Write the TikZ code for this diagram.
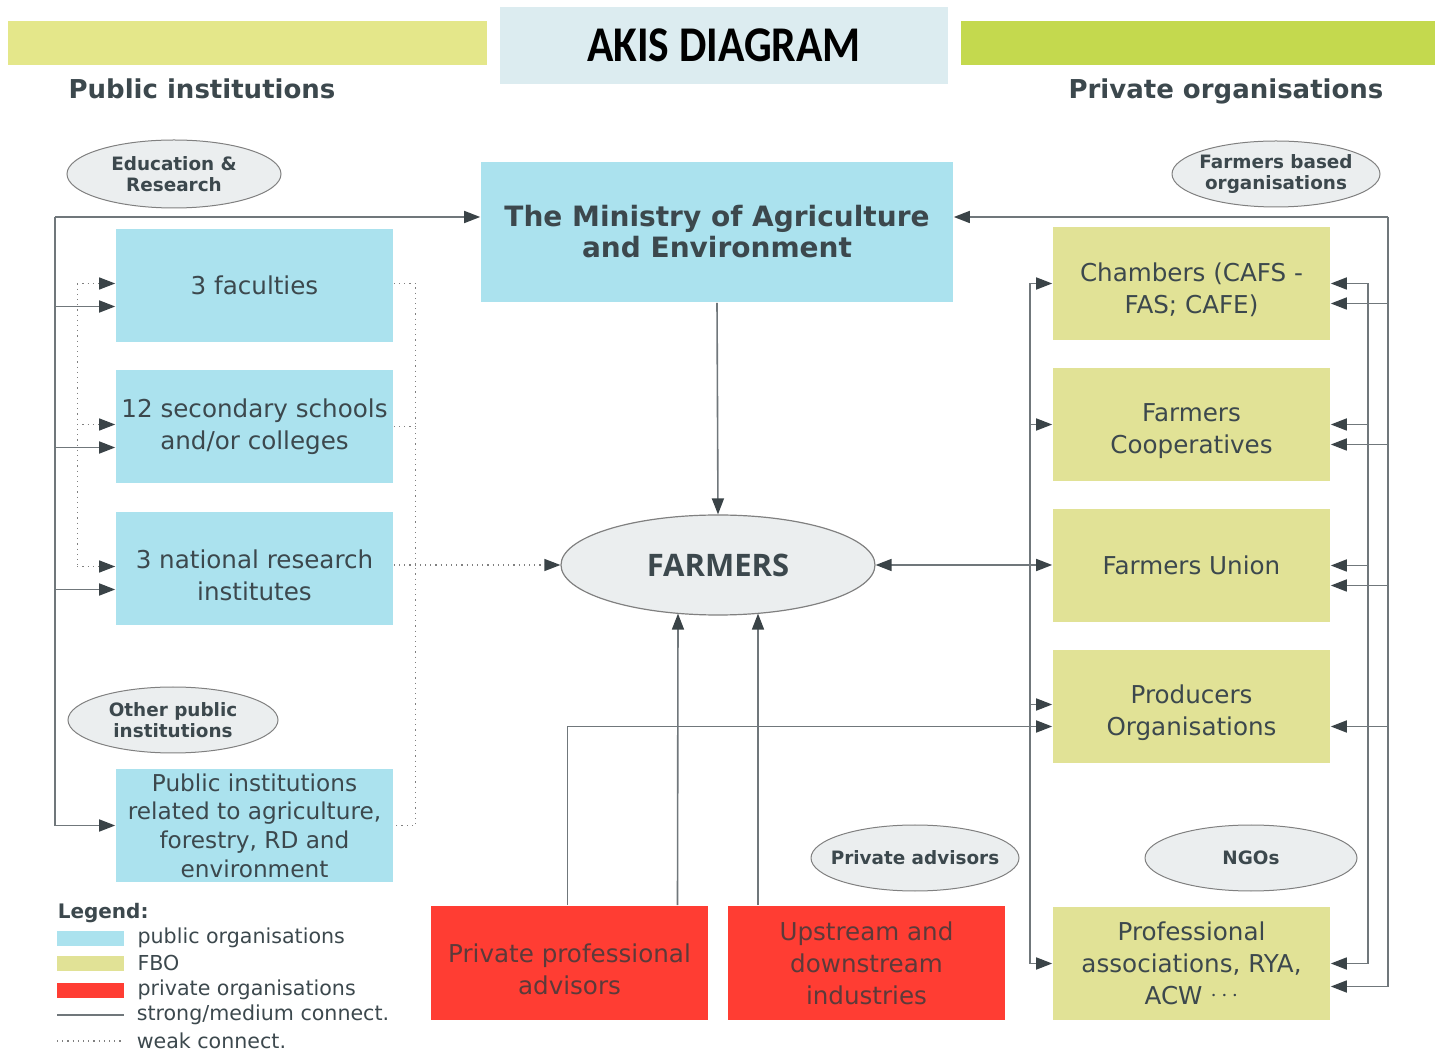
\documentclass[tikz,border=0pt]{standalone}
\usepackage{fontspec}
\usepackage{graphicx}
\setmainfont{DejaVu Sans}
\newfontfamily\farmfont{Open Sans}
\newfontfamily\titlefont{Carlito}
\usetikzlibrary{shapes.geometric,arrows.meta,calc,positioning}

\definecolor{pubblue}{RGB}{171,226,238}
\definecolor{fboyel}{RGB}{225,226,150}
\definecolor{privred}{RGB}{255,61,51}
\definecolor{ellgray}{RGB}{235,238,239}
\definecolor{txtgray}{RGB}{60,72,77}
\definecolor{redtxt}{RGB}{92,58,58}
\definecolor{linegray}{RGB}{112,119,123}
\definecolor{arrowdark}{RGB}{58,67,71}
\definecolor{barleft}{RGB}{228,231,138}
\definecolor{barright}{RGB}{196,217,78}
\definecolor{titlebg}{RGB}{220,236,240}

\newcommand{\bodyfont}{\fontsize{12.3}{16}\selectfont}
\newcommand{\ellfont}{\bfseries\fontsize{9.2}{10.5}\selectfont}

\begin{document}
\begin{tikzpicture}[x=0.5pt,y=-0.5pt,line width=0.8pt,color=linegray,text=txtgray,
    >={Triangle[length=8pt,width=6pt,color=arrowdark]}]
    \tikzstyle{box} = [rectangle, minimum width=138.5pt, minimum height=56.5pt, inner sep=0pt, align=center, font=\bodyfont]
    \tikzstyle{pub} = [box, fill=pubblue]
    \tikzstyle{fbo} = [box, fill=fboyel]
    \tikzstyle{priv} = [box, fill=privred, minimum height=57pt, text=redtxt]
    \tikzstyle{low} = [text height=32pt]
    \tikzstyle{group} = [ellipse, draw=gray, line width=0.5pt, fill=ellgray, inner xsep=-8pt, inner ysep=0pt, minimum width=105pt, minimum height=33pt, align=center, font=\ellfont]
    \tikzstyle{head} = [anchor=base, font=\bfseries\fontsize{13}{14}\selectfont]
    \tikzstyle{weak} = [dotted, line width=0.6pt, color=gray]
    \tikzstyle{swatch} = [rectangle, minimum width=33.5pt, minimum height=7.5pt, inner sep=0pt]
    \tikzstyle{lgtext} = [anchor=west, inner sep=0pt, font=\fontsize{10.3}{12}\selectfont]

    \useasboundingbox (0,0) rectangle (1435,1052);

    % header
    \node[rectangle, fill=barleft, minimum width=239.5pt, minimum height=22pt] (barl) at (247.5,43) {};
    \node[rectangle, fill=barright, minimum width=237pt, minimum height=22pt] (barr) at (1198,43) {};
    \node[rectangle, fill=titlebg, minimum width=224pt, minimum height=38.5pt, text=black] (title) at (724,45.5)
        {\titlefont\bfseries\fontsize{25}{25}\selectfont\scalebox{0.87}[1]{AKIS DIAGRAM}};
    \node[head] (pubhead) at (202,99) {Public institutions};
    \node[head] (privhead) at (1226,99) {Private organisations};

    % centre
    \node[box, fill=pubblue, minimum width=236pt, minimum height=70pt,
          font=\bfseries\fontsize{14}{15.5}\selectfont] (ministry) at (717,232)
        {The Ministry of Agriculture\\and Environment};
    \node[group, minimum width=157pt, minimum height=50pt, font=\farmfont\bfseries\fontsize{15.5}{16}\selectfont,
          line width=0.6pt] (farmers) at (718,565) {FARMERS};

    % public side
    \node[group, minimum width=107pt, minimum height=34pt] (edu) at (174,174) {Education \&\\Research};
    \node[pub] (fac) at (254.5,285.5) {3 faculties};
    \node[pub] (sec) at (254.5,426.5) {12 secondary schools\\and/or colleges};
    \node[pub, low] (res) at (254.5,568.5) {3 national research\\institutes};
    \node[group] (oth) at (173,720) {Other public\\institutions};
    \node[pub, font=\fontsize{11.6}{14.3}\selectfont] (pin) at (254.5,825.5)
        {Public institutions\\related to agriculture,\\forestry, RD and\\environment};

    % private side
    \node[group, minimum width=104pt] (fbogrp) at (1276,174) {Farmers based\\organisations};
    \node[fbo, low] (cham) at (1191.5,283.5) {Chambers (CAFS -\\FAS; CAFE)};
    \node[fbo, low] (coop) at (1191.5,424.5) {Farmers\\Cooperatives};
    \node[fbo] (union) at (1191.5,565.5) {Farmers Union};
    \node[fbo, low] (prod) at (1191.5,706.5) {Producers\\Organisations};
    \node[group, minimum width=104pt] (padv) at (915,858) {Private advisors};
    \node[group, minimum width=106pt] (ngo) at (1251,858) {NGOs};
    \node[fbo] (prof) at (1191.5,963.5) {Professional\\associations, RYA,\\ACW \raisebox{0.25ex}{$\cdots$}};
    \node[priv, low] (ppa) at (569.5,963) {Private professional\\advisors};
    \node[priv] (upd) at (866.5,963) {Upstream and\\downstream\\industries};

    % junction points
    \coordinate (l1) at (55,217);
    \coordinate (r0) at (1030,0);
    \coordinate (r1) at (1368,0);
    \coordinate (r2) at (1388,217);

    % public links
    \draw[->] (l1) -- (l1 -| ministry.west);
    \draw[->] (l1) |- (pin.west);
    \foreach \n in {fac,sec,res}
        \draw[->] ($(\n.west)+(-61,21)$) -- ($(\n.west)+(0,21)$);
    \draw[weak] ($(fac.west)+(-38,-2)$) -- ($(res.west)+(-38,-2)$);
    \foreach \n in {fac,sec,res}
        \draw[weak,->] ($(\n.west)+(-38,-2)$) -- ($(\n.west)+(0,-2)$);
    \draw[weak] ($(fac.east)+(0,-2)$) -| ($(pin.east)+(22,0)$) -- (pin.east);
    \draw[weak] (sec.east) -- ++(22,0);
    \draw[weak,->] (res.east |- farmers.west) -- (farmers.west);

    % farmers links
    \draw[->] (ministry.south) -- (farmers.north);
    \draw[<->] (farmers.east) -- (farmers.east -| union.west);
    \draw[->] ($(ppa.north)+(108,0)$) -- ($(farmers.south)+(-40,-2)$);
    \draw[->] ($(upd.north)+(-108.5,0)$) -- ($(farmers.south)+(40,-2)$);
    \draw[->] ($(ppa.north)+(-2,0)$) |- ($(prod.west)+(0,20)$);

    % private links
    \draw (r0 |- cham.west) -- (r0 |- prof.west);
    \foreach \n in {cham,coop,prof}
        \draw[->] (r0 |- \n.west) -- (\n.west);
    \draw[->] ($(prod.west)+(-23,-2)$) -- ($(prod.west)+(0,-2)$);
    \draw[->] (r2) -- (r2 -| ministry.east);
    \draw[->] (r2) |- ($(prof.east)+(0,23)$);
    \foreach \n in {cham,coop,union,prod}
        \draw[->] ($(\n.east)+(58,20)$) -- ($(\n.east)+(0,20)$);
    \draw (r1 |- cham.east) -- (r1 |- prof.east);
    \foreach \n in {cham,coop,union,prof}
        \draw[->] (r1 |- \n.east) -- (\n.east);

    % legend
    \node[anchor=west, inner sep=0pt, font=\bfseries\fontsize{10}{12}\selectfont] (lghead) at (57,913) {Legend:};
    \node[swatch, fill=pubblue] (lgpub) at (90.5,938) {};
    \node[swatch, fill=fboyel] (lgfbo) at (90.5,963) {};
    \node[swatch, fill=privred] (lgpriv) at (90.5,990) {};
    \coordinate (lgs1) at (57,1015);
    \coordinate (lgs2) at (124,1015);
    \coordinate (lgw1) at (57,1041);
    \coordinate (lgw2) at (124,1041);
    \draw[line width=0.6pt] (lgs1) -- (lgs2);
    \draw[weak] (lgw1) -- (lgw2);
    \node[lgtext, right=6pt of lgpub.east] {public organisations};
    \node[lgtext, right=6pt of lgfbo.east] {FBO};
    \node[lgtext, right=6pt of lgpriv.east] {private organisations};
    \node[lgtext, right=6pt of lgs2] {strong/medium connect.};
    \node[lgtext, right=6pt of lgw2] {weak connect.};
\end{tikzpicture}
\end{document}
